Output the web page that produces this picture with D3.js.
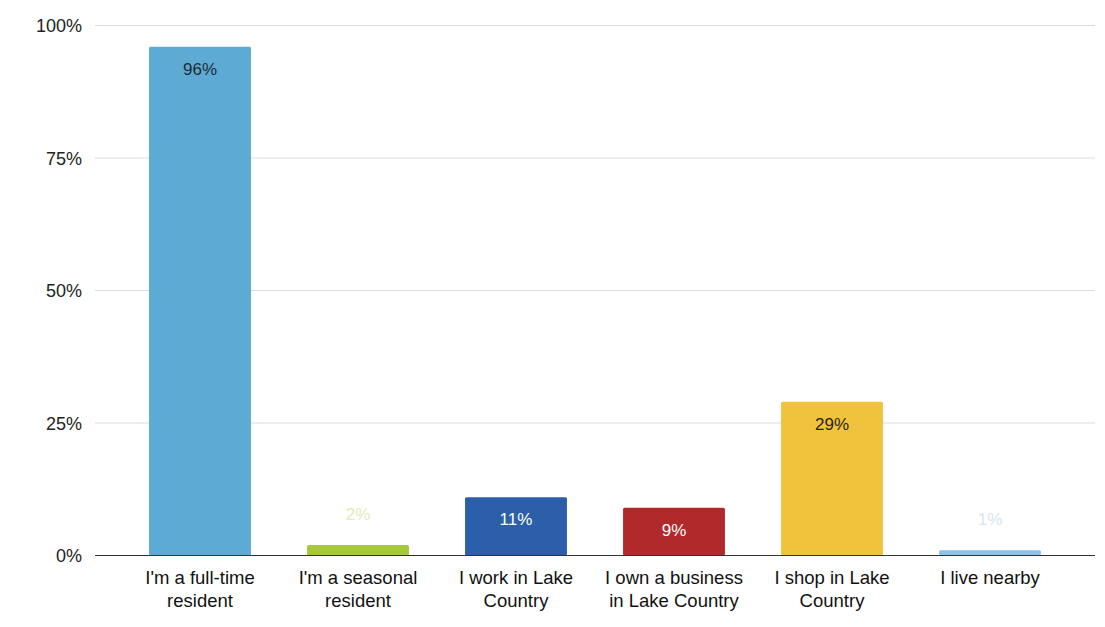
<!DOCTYPE html>
<html>
<head>
<meta charset="utf-8">
<script src="https://cdn.jsdelivr.net/npm/d3@7"></script>
<style>
  html, body { margin: 0; padding: 0; background: #fff; }
  svg text { font-family: "Liberation Sans", Arial, sans-serif; }
</style>
</head>
<body>
<svg id="chart" width="1105" height="627"></svg>
<script>
// Survey responses: relationship to Lake Country
const categories = [
  ["I'm a full-time", "resident"],
  ["I'm a seasonal", "resident"],
  ["I work in Lake", "Country"],
  ["I own a business", "in Lake Country"],
  ["I shop in Lake", "Country"],
  ["I live nearby"]
];
const values = [96, 2, 11, 9, 29, 1];
const barColors = ["#5dabd5", "#a8c83b", "#2b5fa9", "#b0292b", "#f1c23c", "#8cc3ea"];
const labelColors = ["#1f2a33", "#e3ecb8", "#ffffff", "#ffffff", "#2a2412", "#d6e6f1"];
const labelInside = [true, false, true, true, true, false];
const yTicks = [0, 25, 50, 75, 100];

const svg = d3.select("#chart");
const plotLeft = 95, plotRight = 1095;
const baseY = 555.5, topY = 25.5;

const x = d3.scaleBand()
  .domain(d3.range(categories.length))
  .range([121, 1069])
  .paddingInner(0.355)
  .paddingOuter(0.1775);

const y = d3.scaleLinear().domain([0, 100]).range([baseY, topY]);

// Horizontal gridlines
svg.append("g")
  .selectAll("line")
  .data(yTicks.filter(d => d > 0))
  .join("line")
  .attr("x1", plotLeft).attr("x2", plotRight)
  .attr("y1", d => y(d)).attr("y2", d => y(d))
  .attr("stroke", "#dcdcdc").attr("stroke-width", 1);

// Y axis tick labels
const yAxis = d3.axisLeft(y).tickValues(yTicks).tickFormat(d => d + "%").tickSize(0).tickPadding(0);
const yg = svg.append("g").attr("transform", `translate(82,0)`).call(yAxis);
yg.select(".domain").remove();
yg.selectAll("text")
  .attr("font-size", 18)
  .attr("fill", "#222")
  .attr("dy", "0.35em");

// Bars
svg.append("g")
  .selectAll("rect")
  .data(values)
  .join("rect")
  .attr("x", (d, i) => x(i))
  .attr("width", x.bandwidth())
  .attr("y", d => y(d))
  .attr("height", d => baseY - y(d))
  .attr("rx", 1.5)
  .attr("fill", (d, i) => barColors[i]);

// Value labels
svg.append("g")
  .selectAll("text")
  .data(values)
  .join("text")
  .attr("x", (d, i) => x(i) + x.bandwidth() / 2)
  .attr("y", (d, i) => labelInside[i] ? y(d) + 22 : y(d) - 31)
  .attr("dy", "0.35em")
  .attr("text-anchor", "middle")
  .attr("font-size", 17)
  .attr("fill", (d, i) => labelColors[i])
  .text(d => d + "%");

// Baseline
svg.append("line")
  .attr("x1", plotLeft).attr("x2", plotRight)
  .attr("y1", baseY).attr("y2", baseY)
  .attr("stroke", "#333").attr("stroke-width", 1.2);

// Category labels
const xg = svg.append("g");
categories.forEach((lines, i) => {
  const t = xg.append("text")
    .attr("x", x(i) + x.bandwidth() / 2)
    .attr("y", 584)
    .attr("text-anchor", "middle")
    .attr("font-size", 18.5)
    .attr("fill", "#111");
  lines.forEach((ln, j) => {
    t.append("tspan")
      .attr("x", x(i) + x.bandwidth() / 2)
      .attr("dy", j === 0 ? 0 : 23)
      .text(ln);
  });
});
</script>
</body>
</html>
